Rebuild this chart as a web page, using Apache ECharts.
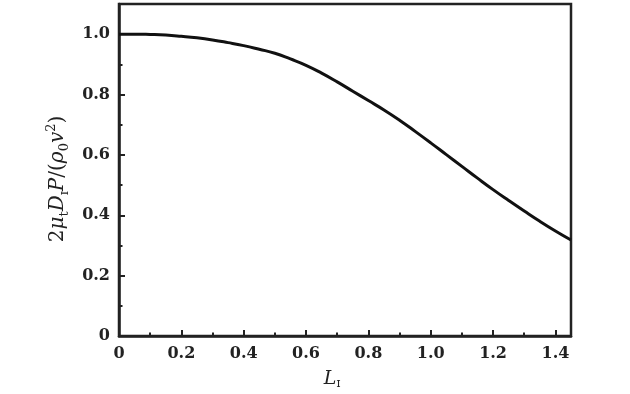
<!DOCTYPE html>
<html>
<head>
<meta charset="utf-8">
<script src="https://cdn.jsdelivr.net/npm/echarts@6/dist/echarts.min.js"></script>
<style>html,body{margin:0;padding:0;background:#fff;}#c{width:630px;height:394px;}</style>
</head>
<body>
<div id="c"></div>
<script>
var xValues = [0,0.05,0.1,0.15,0.2,0.25,0.3,0.35,0.4,0.45,0.5,0.55,0.6,0.65,0.7,0.75,0.8,0.85,0.9,0.95,1.0,1.05,1.1,1.15,1.2,1.25,1.3,1.35,1.4,1.45];
var yValues = [1.0,1.0,0.999,0.997,0.993,0.988,0.981,0.972,0.962,0.950,0.937,0.918,0.897,0.871,0.842,0.811,0.780,0.749,0.715,0.678,0.640,0.601,0.562,0.523,0.485,0.449,0.414,0.380,0.348,0.318];
var xTicks = [0,0.2,0.4,0.6,0.8,1.0,1.2,1.4];
var yTicks = [0,0.2,0.4,0.6,0.8,1.0];

var pts = xValues.map(function(x,i){return [x,yValues[i]];});
var fontFam = 'DejaVu Serif';
var chart = echarts.init(document.getElementById('c'));
chart.setOption({
  animation:false,
  backgroundColor:'#fff',
  grid:{left:119,right:59,top:4,bottom:58,outerBoundsMode:'none',containLabel:false,show:true,borderColor:'#222',borderWidth:2.5,backgroundColor:'transparent'},
  xAxis:{
    type:'value',min:0,max:1.45,interval:0.2,
    axisLine:{show:true,lineStyle:{color:'#222',width:2.5}},
    axisTick:{show:true,inside:true,length:6,lineStyle:{color:'#222',width:2}},
    minorTick:{show:true,splitNumber:2,length:3.5,lineStyle:{color:'#222',width:2}},
    splitLine:{show:false},
    axisLabel:{margin:10,color:'#222',fontFamily:fontFam,fontSize:16,fontWeight:'bold',
      formatter:function(v){ if(v===0) return '0'; return v.toFixed(1);},
      showMaxLabel:false},
    name:'{i|L}{s|ɪ}',nameLocation:'middle',nameGap:32,
    nameTextStyle:{padding:[0,26,0,0],rich:{
      i:{fontFamily:fontFam,fontStyle:'italic',fontSize:19,color:'#222',lineHeight:22},
      s:{fontFamily:fontFam,fontSize:12,color:'#222',verticalAlign:'bottom',lineHeight:14}
    }}
  },
  yAxis:{
    type:'value',min:0,max:1.1,interval:0.2,
    axisLine:{show:true,lineStyle:{color:'#222',width:2.5}},
    axisTick:{show:true,inside:true,length:6,lineStyle:{color:'#222',width:2}},
    minorTick:{show:true,splitNumber:2,length:3.5,lineStyle:{color:'#222',width:2}},
    splitLine:{show:false},
    axisLabel:{margin:9,color:'#222',fontFamily:fontFam,fontSize:16,fontWeight:'bold',showMaxLabel:false,
      formatter:function(v){ if(v===0) return '0'; return v.toFixed(1);}},
    name:'{n|2}{i|μ}{s|t}{i|D}{s|ɪ}{i|P}{n|/(}{i|ρ}{s|0}{i|v}{p|2}{n|)}',
    nameLocation:'middle',nameGap:42,nameRotate:90,
    nameTextStyle:{padding:[0,18,0,0],rich:{
      n:{fontFamily:fontFam,fontSize:20,color:'#222',lineHeight:26},
      i:{fontFamily:fontFam,fontStyle:'italic',fontSize:20,color:'#222',lineHeight:26},
      s:{fontFamily:fontFam,fontSize:13,color:'#222',verticalAlign:'bottom',lineHeight:17},
      p:{fontFamily:fontFam,fontSize:13,color:'#222',verticalAlign:'top',lineHeight:17}
    }}
  },
  series:[{
    type:'line',data:pts,smooth:0.5,showSymbol:false,
    lineStyle:{color:'#111',width:3},clip:true
  }]
});
</script>
</body>
</html>
